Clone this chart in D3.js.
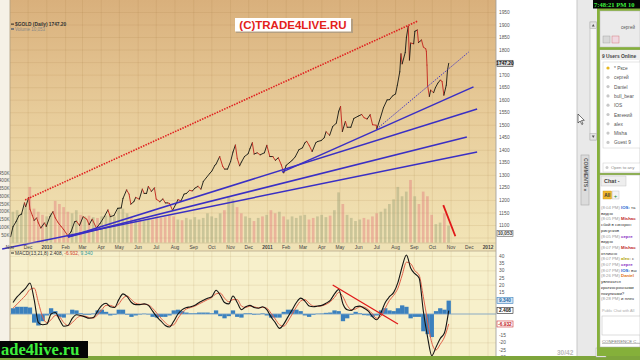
<!DOCTYPE html>
<html>
<head>
<meta charset="utf-8">
<script src="https://cdn.jsdelivr.net/npm/d3@7"></script>
<style>
  body { margin: 0; background: #fff; overflow: hidden; }
  svg { display: block; font-family: "Liberation Sans", Arial, sans-serif; }
</style>
</head>
<body>
<div id="chart"></div>
<script>
// gold daily close (key turning points)
const priceDates = [
  "2009-11-02","2009-11-06","2009-11-11","2009-11-16","2009-11-20","2009-11-25","2009-11-27","2009-12-02","2009-12-04","2009-12-08",
  "2009-12-11","2009-12-15","2009-12-18","2009-12-22","2009-12-28","2009-12-31","2010-01-06","2010-01-11","2010-01-15","2010-01-20",
  "2010-01-25","2010-01-29","2010-02-05","2010-02-10","2010-02-16","2010-02-19","2010-02-24","2010-03-02","2010-03-08","2010-03-12",
  "2010-03-17","2010-03-24","2010-03-30","2010-04-06","2010-04-12","2010-04-16","2010-04-22","2010-04-28","2010-05-04","2010-05-07",
  "2010-05-13","2010-05-17","2010-05-20","2010-05-25","2010-05-28","2010-06-03","2010-06-08","2010-06-11","2010-06-15","2010-06-18",
  "2010-06-23","2010-06-28","2010-07-01","2010-07-07","2010-07-12","2010-07-16","2010-07-20","2010-07-23","2010-07-28","2010-08-02",
  "2010-08-06","2010-08-11","2010-08-16","2010-08-20","2010-08-25","2010-08-30","2010-09-03","2010-09-08","2010-09-13","2010-09-17",
  "2010-09-22","2010-09-28","2010-10-01","2010-10-06","2010-10-08","2010-10-14","2010-10-19","2010-10-22","2010-10-27","2010-11-01",
  "2010-11-05","2010-11-09","2010-11-12","2010-11-16","2010-11-19","2010-11-24","2010-11-30","2010-12-03","2010-12-07","2010-12-10",
  "2010-12-15","2010-12-20","2010-12-27","2010-12-31","2011-01-05","2011-01-10","2011-01-14","2011-01-19","2011-01-24","2011-01-28",
  "2011-02-01","2011-02-07","2011-02-11","2011-02-16","2011-02-22","2011-02-28","2011-03-04","2011-03-07","2011-03-11","2011-03-16",
  "2011-03-22","2011-03-25","2011-03-31","2011-04-05","2011-04-08","2011-04-14","2011-04-19","2011-04-25","2011-04-29","2011-05-02",
  "2011-05-05","2011-05-10","2011-05-13","2011-05-19","2011-05-24","2011-05-31","2011-06-06","2011-06-10","2011-06-15","2011-06-20",
  "2011-06-24","2011-06-30","2011-07-01","2011-07-07","2011-07-12","2011-07-18","2011-07-22","2011-07-27","2011-08-01","2011-08-04",
  "2011-08-08","2011-08-10","2011-08-12","2011-08-17","2011-08-19","2011-08-22","2011-08-24","2011-08-26","2011-08-31","2011-09-02",
  "2011-09-06","2011-09-08","2011-09-13","2011-09-16","2011-09-20","2011-09-21","2011-09-22","2011-09-23","2011-09-26","2011-09-28",
  "2011-10-03","2011-10-06","2011-10-10","2011-10-14","2011-10-17","2011-10-20","2011-10-24","2011-10-26","2011-10-28"
];
const priceValues = [
  1055,1095,1115,1140,1145,1190,1175,1212,1165,1140,
  1120,1130,1110,1090,1110,1096,1135,1155,1130,1110,
  1095,1083,1058,1075,1115,1117,1100,1135,1125,1103,
  1125,1090,1108,1135,1162,1135,1140,1168,1170,1208,
  1242,1225,1185,1195,1212,1205,1245,1228,1228,1256,
  1236,1250,1205,1195,1206,1190,1190,1188,1160,1183,
  1203,1198,1225,1228,1240,1238,1249,1256,1245,1276,
  1291,1309,1317,1340,1345,1375,1336,1325,1325,1355,
  1393,1421,1368,1338,1353,1375,1386,1406,1430,1385,
  1390,1382,1390,1420,1375,1375,1360,1370,1342,1310,
  1340,1352,1360,1374,1402,1410,1430,1436,1420,1395,
  1430,1435,1439,1450,1474,1460,1495,1508,1556,1575,
  1475,1515,1492,1492,1527,1536,1543,1530,1525,1542,
  1502,1500,1485,1530,1570,1601,1602,1617,1625,1660,
  1713,1785,1745,1790,1850,1895,1760,1828,1825,1875,
  1880,1830,1840,1812,1805,1795,1740,1660,1615,1640,
  1630,1650,1668,1680,1675,1620,1660,1720,1747
];

// weekly samples (Fridays) for volume and MACD, first week below
const weekStart = "2009-11-06";
const volumeValues = [ // thousands
  200,210,190,230,360,220,200,180,170,190,270,250,230,200,190,210,180,170,175,165,
  160,170,175,185,170,230,220,190,160,150,145,140,155,150,170,160,165,175,170,150,
  145,160,150,165,150,160,190,170,160,190,210,300,280,230,190,170,160,140,160,170,
  180,210,190,200,170,150,170,160,175,180,150,160,170,180,165,175,210,325,250,180,
  160,140,150,160,150,170,190,200,220,250,280,360,300,330,405,300,250,330,300,180,
  120,130,190,110
];
const macdValues = [
  8,12,15,18,21.5,10,-6,-7.5,-7,0,1,-4,-8.5,-8,-3,-0.5,-1,-2,-3,-2.5,
  2,6,7.5,5,4.5,10,14,12,8,6.5,6.5,7,6,2,-2,-5,-8,-9,-5,0,
  3,4.5,5,6,8,9.5,11,12,16.5,13,8,7,12.5,8,3,5,6,4.5,4,5,
  3,-2,-6,-10,-7,-2,3,8,11,9,5.5,5,5.5,6,7.5,9.5,14,17,7,3,
  2.5,5,5.5,4,2,-2,-4,1,8,12,15,22,33,41,32,28,25,2,-16,-29,
  -23,-17,-13,2.4
];
const signalValues = [
  4,7,10,13,17,18,8,-2,-6,-4,-1,-2,-6,-8,-6,-3,-1.5,-1.5,-2.5,-2.8,
  -0.5,3,6,6,5,7,11,12.5,10,7.5,6.8,6.8,6.3,4,0.5,-3,-6,-8,-7.5,-3,
  1,3.5,4.5,5.5,7,8.5,10,11.5,14,14.5,11,8.5,10,10,5.5,4.5,5.5,5,4.3,4.6,
  4,0.5,-3.5,-7.5,-8.5,-5,0,5,9,10,7.5,5.5,5.3,5.7,6.7,8.5,11.5,15,12,6,
  3,3.5,5,4.8,3,0,-3,-1.5,4,9.5,13,18,27,36,35,30,27,12,-5,-20,
  -25,-21,-16,-6.9
];
const histValues = [
  4,5,5,5,4.5,-6,-8,-5,-1,4,2,-2,-2.5,0,3,2.5,0.5,-0.5,-0.5,0.3,
  2.5,3,1.5,-1,-0.5,3,3,-0.5,-2,-1,-0.3,0.2,-0.3,-2,-2.5,-2,-2,-1,2.5,3,
  2,1,0.5,0.5,1,1,1,0.5,2.5,-1.5,-3,-1.5,2.5,-2,-2.5,0.5,0.5,-0.5,-0.3,0.4,
  -1,-2.5,-2.5,-2.5,1.5,3,3,3,2,-1,-2,-0.5,0.2,0.3,0.8,1,2.5,2,-5,-3,
  -0.5,1.5,0.5,-0.8,-1,-2,-1,2.5,4,2.5,2,4,6,5,-3,-2,-2,-12,-14,-16,
  2,4,3,9.3
];

// hand-drawn trendlines: [date, price] endpoints
const redTrend = [["2009-11-26", 1202], ["2011-09-07", 1916]];
const dottedTrend = [["2011-07-01", 1485], ["2011-11-30", 1792]];
const blueTrends = [
  [["2009-10-19", 1006], ["2011-12-14", 1393]],
  [["2010-02-05", 1054], ["2011-11-27", 1453]],
  [["2010-02-05", 1054], ["2011-12-14", 1565]],
  [["2011-01-25", 1313], ["2011-12-08", 1653]]
];
const volTrend = [["2011-10-19", 243], ["2011-11-08", 42]];
const macdTrend = [["2011-04-19", 20.1], ["2011-08-05", -6.9]];

const priceTicks = [1050,1100,1150,1200,1250,1300,1350,1400,1450,1500,1550,1600,1650,1700,1750,1800,1850,1900,1950];
const volumeTicks = [50,100,150,200,250,300,350,400,450];
const macdTicks = [40,35,30,25,20,15,10,5,0,-5,-10,-15,-20,-25,-30];

const users = ["* Рксе", "сергей", "Daniel", "bull_bear", "IOS", "Евгений", "alex", "Misha", "Guest 9"];
const chatLines = [
  ["(8:04 PM) ", "IOS: ", "та"],
  ["", "", "видно"],
  ["(8:05 PM) ", "Mishac", ""],
  ["", "", "сбой в синхрон"],
  ["", "", "рисунков"],
  ["(8:05 PM) ", "серге", ""],
  ["", "", "видно"],
  ["(8:07 PM) ", "Mishac", ""],
  ["", "", "отлично"],
  ["(8:07 PM) ", "alex: ", "с"],
  ["(8:07 PM) ", "серге", ""],
  ["(8:07 PM) ", "IOS: ", "вы"],
  ["(8:26 PM) ", "Daniel", ""],
  ["", "", "увлекатся"],
  ["", "", "краткосрочными"],
  ["", "", "покупками?"],
  ["(8:28 PM) ", "", "и плеч"]
];
const nameColors = {"IOS: ": "#1a5fd0", "Mishac": "#c02828", "серге": "#8a2fc4", "alex: ": "#b0a000", "Daniel": "#e07018"};

const parse = d3.timeParse("%Y-%m-%d");
const price = priceDates.map((d, i) => ({date: parse(d), value: priceValues[i]}));
const week0 = parse(weekStart);
const weeks = macdValues.map((v, i) => ({
  date: d3.timeDay.offset(week0, 7 * i),
  macd: v, signal: signalValues[i], hist: histValues[i], vol: volumeValues[i]
}));

const W = 640, H = 360;
const plotL = 10, plotR = 496, plotB = 243;
const macdT = 251, macdB = 356;

const svg = d3.select("#chart").append("svg").attr("width", W).attr("height", H);
const defs = svg.append("defs");
const grad = defs.append("linearGradient").attr("id", "bg").attr("x1", 0).attr("y1", 0).attr("x2", 0).attr("y2", 1);
grad.append("stop").attr("offset", "0%").attr("stop-color", "#d9b07c");
grad.append("stop").attr("offset", "45%").attr("stop-color", "#e7cb99");
grad.append("stop").attr("offset", "100%").attr("stop-color", "#f2e4b6");
defs.append("clipPath").attr("id", "mainClip").append("rect")
  .attr("x", plotL).attr("y", 0).attr("width", plotR - plotL).attr("height", plotB);
defs.append("clipPath").attr("id", "macdClip").append("rect")
  .attr("x", plotL).attr("y", macdT).attr("width", plotR - plotL).attr("height", macdB - macdT);

const x = d3.scaleTime().domain([new Date(2009, 10, 1), new Date(2012, 0, 1)]).range([10, 488]);
const yPrice = d3.scaleLinear().domain([1050, 1900]).range([238, 25]);
const yVol = d3.scaleLinear().domain([0, 450]).range([242.75, 173]);
const yMacd = d3.scaleLinear().domain([0, 40]).range([314, 256.4]);

// backgrounds
svg.append("rect").attr("x", 0).attr("y", 0).attr("width", plotL).attr("height", macdB).attr("fill", "#f5f1e6");
svg.append("rect").attr("x", plotL).attr("y", 0).attr("width", plotR - plotL).attr("height", plotB).attr("fill", "url(#bg)");
svg.append("rect").attr("x", plotL).attr("y", plotB).attr("width", plotR - plotL).attr("height", macdT - plotB).attr("fill", "#efe2b6");
svg.append("rect").attr("x", plotL).attr("y", macdT).attr("width", plotR - plotL).attr("height", macdB - macdT).attr("fill", "#f7f0cb");

// grid
const months = x.ticks(d3.timeMonth.every(1));
const grid = svg.append("g").attr("stroke", "rgba(150,110,50,0.2)").attr("stroke-width", 0.6);
grid.selectAll(".vm").data(months).join("line")
  .attr("x1", d => x(d)).attr("x2", d => x(d)).attr("y1", 0).attr("y2", plotB);
grid.selectAll(".vd").data(months).join("line")
  .attr("x1", d => x(d)).attr("x2", d => x(d)).attr("y1", macdT).attr("y2", macdB);
grid.selectAll(".hp").data(priceTicks).join("line")
  .attr("x1", plotL).attr("x2", plotR).attr("y1", d => yPrice(d)).attr("y2", d => yPrice(d));
grid.selectAll(".hm").data(macdTicks.filter(d => d % 10 === 0)).join("line")
  .attr("x1", plotL).attr("x2", plotR).attr("y1", d => yMacd(d)).attr("y2", d => yMacd(d));

// volume bars, coloured by direction of the week
const bis = d3.bisector(d => d.date).right;
const priceAt = dt => price[Math.max(0, bis(price, dt) - 1)].value;
const main = svg.append("g").attr("clip-path", "url(#mainClip)");
main.selectAll(".vol").data(weeks).join("rect")
  .attr("x", d => x(d.date) - 1.5).attr("width", 2.7)
  .attr("y", d => yVol(d.vol)).attr("height", d => yVol(0) - yVol(d.vol))
  .attr("fill", d => priceAt(d.date) >= priceAt(d3.timeDay.offset(d.date, -7)) ? "rgba(155,162,120,0.45)" : "rgba(226,125,125,0.45)");

// trendlines
const tl = (pts, ys) => pts.map(p => [x(parse(p[0])), ys(p[1])]);
const line = d3.line();
svg.append("path").attr("d", line(tl(redTrend, yPrice)))
  .attr("stroke", "#e02020").attr("stroke-width", 1.6).attr("stroke-dasharray", "1.5,1.2").attr("fill", "none");
svg.append("path").attr("d", line(tl(dottedTrend, yPrice)))
  .attr("stroke", "#4a3cc0").attr("stroke-width", 1).attr("stroke-dasharray", "1.5,1.2").attr("fill", "none");
svg.selectAll(".blue").data(blueTrends).join("path")
  .attr("d", d => line(tl(d, yPrice)))
  .attr("stroke", "#3a2fc4").attr("stroke-width", 1.5).attr("fill", "none");
svg.append("path").attr("d", line(tl(volTrend, yVol)))
  .attr("stroke", "#e01818").attr("stroke-width", 1.8).attr("fill", "none");

// price line: black up, red down
main.selectAll(".seg").data(d3.pairs(price)).join("line")
  .attr("x1", d => x(d[0].date)).attr("y1", d => yPrice(d[0].value))
  .attr("x2", d => x(d[1].date)).attr("y2", d => yPrice(d[1].value))
  .attr("stroke", d => d[1].value >= d[0].value ? "#202018" : "#c42a22")
  .attr("stroke-width", 0.95).attr("stroke-linecap", "round");

// MACD panel
const mg = svg.append("g").attr("clip-path", "url(#macdClip)");
mg.selectAll(".hist").data(weeks).join("rect")
  .attr("x", d => x(d.date) - 2.15).attr("width", 4.3)
  .attr("y", d => Math.min(yMacd(0), yMacd(d.hist)))
  .attr("height", d => Math.abs(yMacd(d.hist) - yMacd(0)))
  .attr("fill", "#3b80bd");
mg.append("line").attr("x1", plotL).attr("x2", plotR).attr("y1", yMacd(0)).attr("y2", yMacd(0))
  .attr("stroke", "#7aa7cf").attr("stroke-width", 0.8);
mg.append("path").datum(weeks)
  .attr("d", d3.line().x(d => x(d.date)).y(d => yMacd(d.signal)).curve(d3.curveMonotoneX))
  .attr("stroke", "#e0604a").attr("stroke-width", 1).attr("fill", "none");
mg.append("path").datum(weeks)
  .attr("d", d3.line().x(d => x(d.date)).y(d => yMacd(d.macd)).curve(d3.curveMonotoneX))
  .attr("stroke", "#141414").attr("stroke-width", 1.1).attr("fill", "none");
mg.append("path").attr("d", line(tl(macdTrend, yMacd)))
  .attr("stroke", "#e01818").attr("stroke-width", 1.3).attr("fill", "none");

// frames
svg.append("line").attr("x1", plotR).attr("x2", plotR).attr("y1", 0).attr("y2", macdB).attr("stroke", "#999").attr("stroke-width", 0.8);
svg.append("line").attr("x1", plotL).attr("x2", plotL).attr("y1", 0).attr("y2", macdB).attr("stroke", "#b8a88a").attr("stroke-width", 0.8);
svg.append("line").attr("x1", plotL).attr("x2", plotR).attr("y1", macdT).attr("y2", macdT).attr("stroke", "#b8a88a").attr("stroke-width", 0.8);
svg.append("line").attr("x1", plotL).attr("x2", plotR).attr("y1", plotB).attr("y2", plotB).attr("stroke", "#c8b88e").attr("stroke-width", 0.6);

// date labels
const fmtMonth = d3.timeFormat("%b"), fmtYear = d3.timeFormat("%Y");
svg.append("g").selectAll("text").data(months).join("text")
  .attr("x", d => x(d)).attr("y", 249)
  .attr("text-anchor", "middle").attr("font-size", 4.8)
  .attr("font-weight", d => d.getMonth() === 0 ? "bold" : "normal")
  .attr("fill", "#444")
  .text(d => d.getMonth() === 0 ? fmtYear(d) : fmtMonth(d));

// value flags on the right axis (labels under a flag are hidden, like the platform does)
const priceFlags = [[yPrice(1747.2), "1747.20", "#333", "#d8d8d8", "#111"],
                    [yVol(60), "10,053", "#666", "#f4f4f4", "#444"]];
const macdFlags = [[yMacd(9.34), "9.340", "#3b80bd", "#d6e6f4", "#2a6aa8"],
                   [yMacd(2.408), "2.408", "#222", "#fff", "#111"],
                   [yMacd(-6.932), "-6.932", "#d03030", "#fff", "#c02020"]];
const flagYs = priceFlags.concat(macdFlags).map(f => f[0]);
const free = y => flagYs.every(fy => Math.abs(fy - y) > 4.6);

// right price axis
const ax = svg.append("g").attr("font-size", 4.8).attr("fill", "#555");
ax.selectAll(".pt").data(priceTicks.filter(d => free(yPrice(d)))).join("text")
  .attr("x", 499).attr("y", d => yPrice(d) + 1.6).text(d => d);
ax.selectAll(".mt").data(macdTicks.filter(d => free(yMacd(d)))).join("text")
  .attr("x", 499).attr("y", d => yMacd(d) + 1.6).text(d => d);
// left volume axis
svg.append("g").selectAll("text").data(volumeTicks).join("text")
  .attr("x", 9.5).attr("y", d => yVol(d) + 1.6).attr("text-anchor", "end")
  .attr("font-size", 4.6).attr("fill", "#555").text(d => d + "K");

function flag(f) {
  const [y, label, stroke, fill, color] = f;
  const g = svg.append("g");
  g.append("rect").attr("x", 497).attr("y", y - 3).attr("width", 16).attr("height", 6)
    .attr("fill", fill).attr("stroke", stroke).attr("stroke-width", 0.6);
  g.append("text").attr("x", 505).attr("y", y + 1.8).attr("text-anchor", "middle")
    .attr("font-size", 4.8).attr("font-weight", "bold").attr("fill", color).text(label);
}
priceFlags.concat(macdFlags).forEach(flag);

// legends
svg.append("rect").attr("x", 11).attr("y", 23.6).attr("width", 3).attr("height", 1).attr("fill", "#222");
svg.append("text").attr("x", 15).attr("y", 26).attr("font-size", 4.8).attr("font-weight", "bold").attr("fill", "#333")
  .text("$GOLD (Daily) 1747.20");
svg.append("rect").attr("x", 11).attr("y", 28).attr("width", 3).attr("height", 2).attr("fill", "#777");
svg.append("text").attr("x", 15).attr("y", 30.5).attr("font-size", 4.5).attr("fill", "#888")
  .text("Volume 10,053");
svg.append("rect").attr("x", 11).attr("y", 252.5).attr("width", 3).attr("height", 1).attr("fill", "#222");
const ml = svg.append("text").attr("x", 15).attr("y", 255).attr("font-size", 4.8);
ml.append("tspan").attr("fill", "#333").text("MACD(13,21,8) 2.408, ");
ml.append("tspan").attr("fill", "#d03a2a").text("-6.932, ");
ml.append("tspan").attr("fill", "#2f9a9a").text("9.340");

// watermark box
svg.append("rect").attr("x", 236).attr("y", 19).attr("width", 117).attr("height", 14).attr("fill", "#9a8f80").attr("opacity", 0.6);
svg.append("rect").attr("x", 235).attr("y", 18).attr("width", 116).attr("height", 13.5).attr("fill", "#fff");
svg.append("text").attr("x", 293).attr("y", 29).attr("text-anchor", "middle")
  .attr("font-size", 11.5).attr("font-weight", "bold").attr("fill", "#e3221b").text("(C)TRADE4LIVE.RU");

// bottom strip and site label
svg.append("rect").attr("x", 0).attr("y", 356).attr("width", W).attr("height", 4).attr("fill", "#7ea53c");
svg.append("rect").attr("x", 0).attr("y", 341).attr("width", 88).attr("height", 17).attr("fill", "#050505");
svg.append("text").attr("x", 1).attr("y", 355).attr("font-family", "'Liberation Serif', 'DejaVu Serif', serif")
  .attr("font-size", 16.5).attr("font-weight", "bold").attr("fill", "#3df03d").text("ade4live.ru");

// page counter
svg.append("text").attr("x", 557).attr("y", 355).attr("font-size", 6.5).attr("font-weight", "bold")
  .attr("fill", "#bbb").text("30/42");

// side strip, scrollbar, comments tab
svg.append("rect").attr("x", 577).attr("y", 0).attr("width", 20).attr("height", 356).attr("fill", "#e9e9e9");
svg.append("line").attr("x1", 577).attr("x2", 577).attr("y1", 0).attr("y2", 356).attr("stroke", "#c8c8c8");
svg.append("rect").attr("x", 590).attr("y", 22).attr("width", 6.5).attr("height", 118).attr("fill", "#f6f6f6").attr("stroke", "#b5b5b5").attr("stroke-width", 0.6);
svg.append("rect").attr("x", 590).attr("y", 22).attr("width", 6.5).attr("height", 6.5).attr("fill", "#e4e4e4").attr("stroke", "#b5b5b5").attr("stroke-width", 0.6);
svg.append("rect").attr("x", 590).attr("y", 133.5).attr("width", 6.5).attr("height", 6.5).attr("fill", "#e4e4e4").attr("stroke", "#b5b5b5").attr("stroke-width", 0.6);
svg.append("path").attr("d", "M591.8,26.5 L593.25,24 L594.7,26.5Z M591.8,135.5 L593.25,138 L594.7,135.5Z").attr("fill", "#555");
svg.append("rect").attr("x", 581).attr("y", 155).attr("width", 8).attr("height", 50).attr("fill", "#dcdcdc").attr("stroke", "#aaa").attr("stroke-width", 0.6);
svg.append("text").attr("transform", "translate(583.5,158) rotate(90)").attr("font-size", 5)
  .attr("font-weight", "bold").attr("fill", "#555").text("COMMENTS »");
svg.append("rect").attr("x", 596).attr("y", 348).attr("width", 10).attr("height", 9).attr("fill", "#f2f2f2").attr("stroke", "#aaa").attr("stroke-width", 0.5);
svg.append("text").attr("x", 598).attr("y", 354.5).attr("font-size", 5).attr("fill", "#555").text("»");

// chat panel
svg.append("rect").attr("x", 597).attr("y", 0).attr("width", 43).attr("height", 356).attr("fill", "#85b03a");
svg.append("rect").attr("x", 593).attr("y", 0).attr("width", 47).attr("height", 8.5).attr("fill", "#050505");
svg.append("text").attr("x", 594).attr("y", 6.8).attr("font-family", "'Liberation Serif', serif")
  .attr("font-size", 6.5).attr("font-weight", "bold").attr("fill", "#3df03d").text("7:48:21 PM 10");
svg.append("rect").attr("x", 600).attr("y", 11).attr("width", 40).attr("height", 36).attr("fill", "#ebebeb").attr("stroke", "#bbb").attr("stroke-width", 0.5);
svg.append("text").attr("x", 628).attr("y", 29).attr("text-anchor", "middle").attr("font-size", 4.5).attr("fill", "#555").text("сергей");
svg.append("rect").attr("x", 603).attr("y", 36).attr("width", 7).attr("height", 7).attr("fill", "#d8d8d8").attr("stroke", "#999").attr("stroke-width", 0.4);
svg.append("rect").attr("x", 612).attr("y", 36).attr("width", 7).attr("height", 7).attr("fill", "#f0d8e0").attr("stroke", "#c66").attr("stroke-width", 0.4);

svg.append("rect").attr("x", 600).attr("y", 50).attr("width", 40).attr("height", 123).attr("fill", "#fff").attr("stroke", "#aaa").attr("stroke-width", 0.5);
svg.append("rect").attr("x", 600).attr("y", 50).attr("width", 40).attr("height", 10).attr("fill", "#eeeeee");
svg.append("text").attr("x", 602).attr("y", 57.5).attr("font-size", 4.9).attr("font-weight", "bold").attr("fill", "#444").text("9 Users Online");
svg.append("rect").attr("x", 603).attr("y", 62).attr("width", 37).attr("height", 86).attr("fill", "#fff").attr("stroke", "#ccc").attr("stroke-width", 0.5);
const ul = svg.append("g");
ul.selectAll("circle").data(users).join("circle")
  .attr("cx", 608).attr("cy", (d, i) => 68 + i * 9.3).attr("r", 1.6)
  .attr("fill", (d, i) => i === 0 ? "#e8b820" : "#c8c8c8");
ul.selectAll("text").data(users).join("text")
  .attr("x", 614).attr("y", (d, i) => 70 + i * 9.3).attr("font-size", 4.8).attr("fill", "#555").text(d => d);
svg.append("rect").attr("x", 603).attr("y", 163).attr("width", 37).attr("height", 9).attr("fill", "#fff").attr("stroke", "#ccc").attr("stroke-width", 0.5);
svg.append("circle").attr("cx", 607).attr("cy", 167.5).attr("r", 1.5).attr("fill", "#ccc");
svg.append("text").attr("x", 611).attr("y", 169.3).attr("font-size", 4.3).attr("fill", "#888").text("Open to any");

svg.append("rect").attr("x", 600).attr("y", 175).attr("width", 40).attr("height", 172).attr("fill", "#fff").attr("stroke", "#aaa").attr("stroke-width", 0.5);
svg.append("rect").attr("x", 601).attr("y", 176).attr("width", 25).attr("height", 10).attr("fill", "#eeeeee").attr("stroke", "#bbb").attr("stroke-width", 0.4);
svg.append("text").attr("x", 604).attr("y", 183).attr("font-size", 5.5).attr("font-weight", "bold").attr("fill", "#444").text("Chat -");
svg.append("rect").attr("x", 603).attr("y", 191).attr("width", 8.5).attr("height", 8).attr("fill", "#f1b72c").attr("stroke", "#c98f10").attr("stroke-width", 0.4);
svg.append("text").attr("x", 604.3).attr("y", 197).attr("font-size", 4.6).attr("font-weight", "bold").attr("fill", "#333").text("All");
svg.append("rect").attr("x", 612.5).attr("y", 191).attr("width", 6.5).attr("height", 8).attr("fill", "#f4f4f4").attr("stroke", "#bbb").attr("stroke-width", 0.4);
svg.append("text").attr("x", 613.8).attr("y", 197.5).attr("font-size", 6).attr("fill", "#2a8a2a").text("+");

const chat = svg.append("g").attr("font-size", 4.3);
chat.selectAll("text").data(chatLines).join("text")
  .attr("x", 601).attr("y", (d, i) => 209 + i * 5.7)
  .each(function(d) {
    const t = d3.select(this);
    if (d[0]) t.append("tspan").attr("fill", "#9a9a9a").text(d[0]);
    if (d[1]) t.append("tspan").attr("fill", nameColors[d[1]]).attr("font-weight", "bold").text(d[1]);
    if (d[2]) t.append("tspan").attr("fill", "#333").text(d[2]);
  });
svg.append("text").attr("x", 602).attr("y", 312).attr("font-size", 3.8).attr("fill", "#aaa").text("Public Chat with All");
svg.append("rect").attr("x", 602).attr("y", 316).attr("width", 38).attr("height", 19).attr("fill", "#fff").attr("stroke", "#bbb").attr("stroke-width", 0.5);
svg.append("text").attr("x", 602).attr("y", 342.5).attr("font-size", 4.3).attr("fill", "#777")
  .attr("text-decoration", "underline").text("CONFERENCE C...");

// mouse cursor
svg.append("path").attr("d", "M578,114 L578,123 L580.2,121 L581.8,124.5 L583,124 L581.5,120.5 L584.3,120.3 Z")
  .attr("fill", "#fff").attr("stroke", "#222").attr("stroke-width", 0.6);
</script>
</body>
</html>
